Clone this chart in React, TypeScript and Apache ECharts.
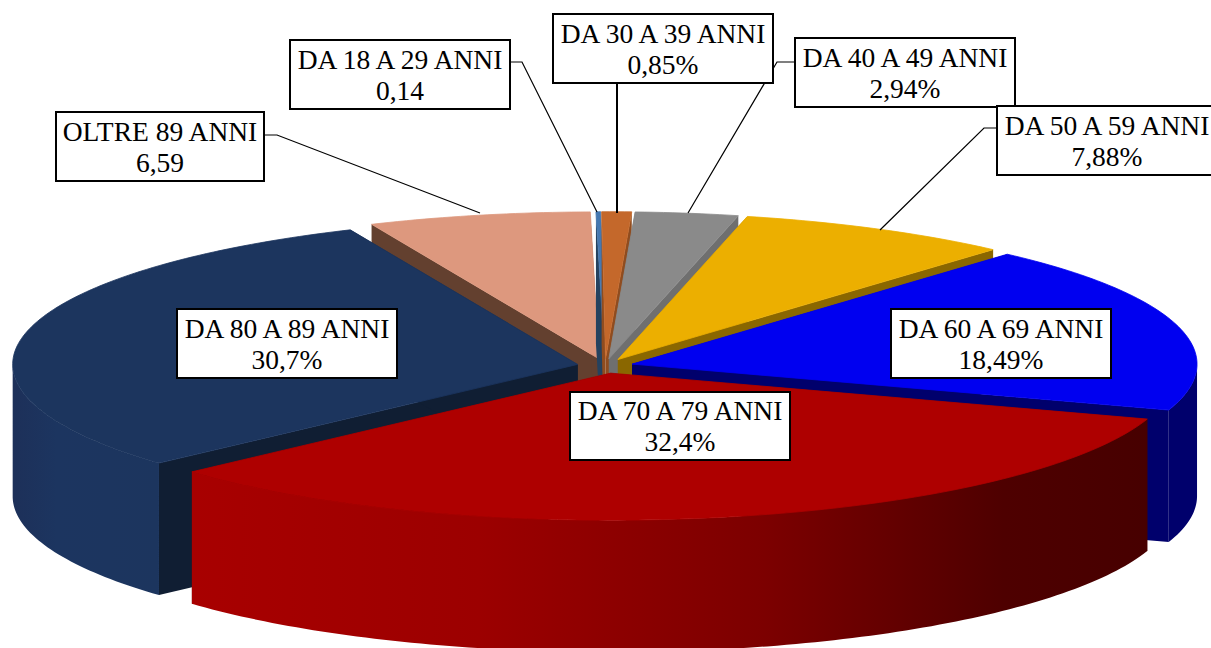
import React, { useEffect, useRef } from "react";
import * as echarts from "echarts";

const ageGroups = ["DA 30 A 39 ANNI", "DA 40 A 49 ANNI", "DA 50 A 59 ANNI", "DA 60 A 69 ANNI", "DA 70 A 79 ANNI", "DA 80 A 89 ANNI", "OLTRE 89 ANNI", "DA 18 A 29 ANNI"];
const shares = [0.85, 2.94, 7.88, 18.49, 32.4, 30.7, 6.59, 0.14];
const shareLabels = ["0,85%", "2,94%", "7,88%", "18,49%", "32,4%", "30,7%", "6,59", "0,14"];
const topColors = ["#c4682b", "#8a8a8a", "#ecaf00", "#0000f0", "#ae0000", "#1c355e", "#dd987e", "#4678b0"];
const sideColors = ["#8f4c1f", "#6f6f6f", "#8a6700", "#00006c", "#480000", "#101e33", "#63402f", "#25425f"];
// back slices are painted first, the front ones over them
const paintOrder = [6, 7, 0, 1, 2, 3, 5, 4];

const W = 1211, H = 648;
const CX = 605, CY = 366, RX = 565, RY = 147, DEPTH = 132, EXPLODE = 28;

// box [x, y, w, h], leader polyline
const labelLayout: { box: number[]; line?: number[][]; lw?: number }[] = [
  { box: [553, 14, 220, 69], line: [[617, 83], [617, 213]], lw: 2 },
  { box: [795, 38, 220, 69], line: [[795, 62], [777, 62], [688, 213]] },
  { box: [997, 106, 220, 69], line: [[997, 128], [984, 128], [880, 230]] },
  { box: [891, 309, 220, 69] },
  { box: [570, 392, 220, 68] },
  { box: [177, 309, 220, 69] },
  { box: [56, 112, 208, 69], line: [[264, 135], [277, 135], [480, 213]] },
  { box: [290, 40, 220, 69], line: [[510, 62], [522, 62], [597, 212]] },
];

const total = shares.reduce((a, b) => a + b, 0);
const rad = (d: number) => (d * Math.PI) / 180;

// small perspective correction of the picture's view angle
const view = (deg: number) => deg - 0.4 + (deg > 108 ? 3 * Math.sin(((deg - 108) / 252) * Math.PI) : 0);

function sliceAngles(i: number) {
  const before = shares.slice(0, i).reduce((a, b) => a + b, 0);
  return [(before / total) * 360, ((before + shares[i]) / total) * 360];
}

function renderSlice(params: any) {
  const i = paintOrder[params.dataIndex];
  const [a0, a1] = sliceAngles(i);
  const mid = view((a0 + a1) / 2);
  const ax = CX + EXPLODE * Math.sin(rad(mid));
  const ay = CY - EXPLODE * (RY / RX) * Math.cos(rad(mid));
  const at = (d: number) => [ax + RX * Math.sin(rad(d)), ay - RY * Math.cos(rad(d))];
  const arc: number[][] = [];
  const front: number[][] = [];
  const steps = Math.max(2, Math.ceil(a1 - a0));
  const v0 = view(a0), v1 = view(a1);
  for (let s = 0; s <= steps; s++) {
    const d = view(a0 + ((a1 - a0) * s) / steps);
    arc.push(at(d));
    if (d > 90 && d < 270) front.push(at(d));
  }
  // the outer wall only shows on the near half of the rim
  if (v0 < 90 && v1 > 90) front.unshift(at(90));
  if (v0 < 270 && v1 > 270) front.push(at(270));
  const down = (p: number[]) => [p[0], p[1] + DEPTH];
  const apex = [ax, ay];
  const first = arc[0], last = arc[arc.length - 1];
  let outerFill: any = sideColors[i];
  if (i === 4) {
    outerFill = new echarts.graphic.LinearGradient(0, 0, 1, 0, [
      { offset: 0, color: "#a80000" },
      { offset: 0.3, color: "#9c0000" },
      { offset: 0.6, color: "#7c0000" },
      { offset: 0.85, color: "#4e0000" },
      { offset: 1, color: "#470000" },
    ]);
  } else if (i === 5) {
    outerFill = new echarts.graphic.LinearGradient(0, 0, 1, 0, [
      { offset: 0, color: "#1d3059" },
      { offset: 0.3, color: "#1c3560" },
      { offset: 1, color: "#1c355e" },
    ]);
  }
  const poly = (points: number[][], fill: any, stroke: any = null) => ({
    type: "polygon",
    shape: { points },
    style: { fill, stroke, lineWidth: stroke ? 0.8 : 0 },
  });
  const children: any[] = [
    poly([apex, first, down(first), down(apex)], sideColors[i]),
    poly([apex, last, down(last), down(apex)], sideColors[i]),
  ];
  if (front.length > 1) children.push(poly([...front, ...front.slice().reverse().map(down)], outerFill));
  children.push(poly([apex, ...arc], topColors[i], topColors[i]));
  return { type: "group", children };
}

const labelGraphics: any[] = labelLayout.flatMap((l, i) => {
  const [x, y, w, h] = l.box;
  const items: any[] = [];
  if (l.line) {
    items.push({ type: "polyline", shape: { points: l.line }, style: { stroke: "#000", lineWidth: l.lw ?? 1.2, fill: null }, z: 10 });
  }
  items.push({ type: "rect", shape: { x, y, width: w, height: h }, style: { fill: "#fff", stroke: "#000", lineWidth: 2 }, z: 11 });
  items.push({
    type: "text",
    x: x + w / 2,
    y: y + h / 2,
    style: {
      text: `${ageGroups[i]}\n${shareLabels[i]}`,
      align: "center",
      verticalAlign: "middle",
      fill: "#000",
      font: '27.5px "Liberation Serif"',
      lineHeight: 31,
    },
    z: 12,
  });
  return items;
});

export default function App() {
  const ref = useRef<HTMLDivElement>(null);
  useEffect(() => {
    const chart = echarts.init(ref.current!, undefined, { renderer: "svg" });
    chart.setOption({
      animation: false,
      backgroundColor: "#fff",
      series: [
        {
          type: "custom",
          coordinateSystem: "none",
          silent: true,
          clip: false,
          renderItem: renderSlice,
          data: paintOrder.map((i) => shares[i]),
        },
      ],
      graphic: { elements: labelGraphics },
    });
    return () => chart.dispose();
  }, []);
  return <div ref={ref} style={{ position: "absolute", left: 0, top: 0, width: W, height: H }} />;
}
